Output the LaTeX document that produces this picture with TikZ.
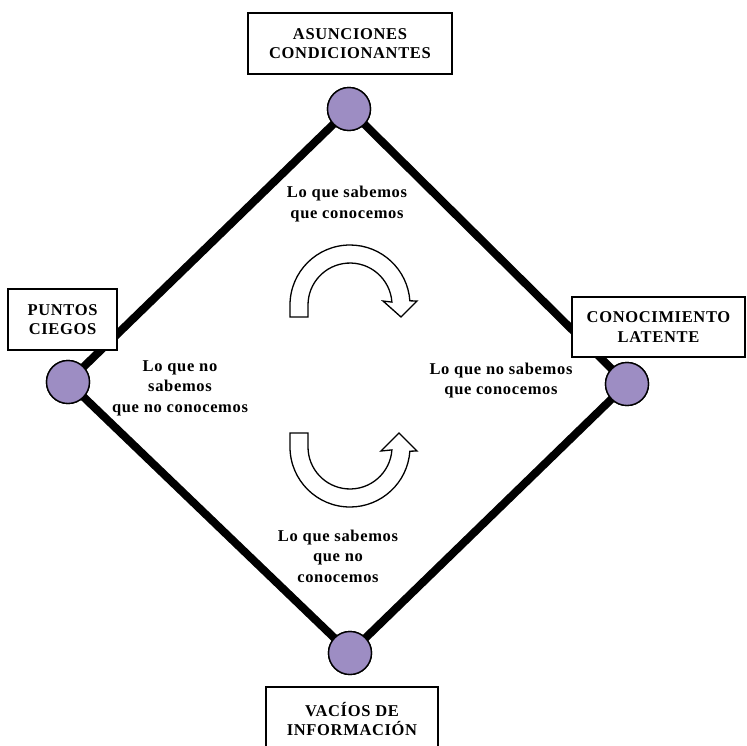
\documentclass[tikz,border=0pt]{standalone}
\usepackage{fontspec}
\setmainfont{Liberation Serif}[LetterSpace=4]
\definecolor{dot}{RGB}{157,141,195}
\begin{document}
\begin{tikzpicture}[x=1pt,y=1pt,
  edge/.style={line width=8pt},
  dotnode/.style={circle,draw=black,line width=1.4pt,fill=dot,minimum size=43pt,inner sep=0pt},
  boxnode/.style={draw=black,line width=1.6pt,fill=white,align=center,inner sep=0pt,
     font=\fontsize{16.5}{19.5}\selectfont\bfseries},
  lbl/.style={align=center,inner sep=0pt,font=\fontsize{16.5}{20.5}\selectfont\bfseries},
  cyclearrow/.style={draw=black,line width=1.3pt,fill=white,line join=miter}]
\useasboundingbox (0,0) rectangle (747,-745);
\begin{scope}
\clip (0,0) rectangle (747,-745);
% circles (positions)
\node[dotnode] (ct) at (349,-109) {};
\node[dotnode] (cl) at (68,-382) {};
\node[dotnode] (cr) at (627,-384) {};
\node[dotnode] (cb) at (350,-653) {};
% diamond edges
\draw[edge] (ct.center) -- (cl.center);
\draw[edge] (cl.center) -- (cb.center);
\draw[edge] (cb.center) -- (cr.center);
\draw[edge] (cr.center) -- (ct.center);
% redraw circles on top
\node[dotnode] at (ct) {};
\node[dotnode] at (cl) {};
\node[dotnode] at (cr) {};
\node[dotnode] at (cb) {};
% boxes
\node[boxnode,minimum width=204pt,minimum height=61pt] (bt) at (350,-43.5) {ASUNCIONES\\CONDICIONANTES};
\node[boxnode,minimum width=109pt,minimum height=61pt] (bl) at (62.5,-319.5) {PUNTOS\\CIEGOS};
\node[boxnode,minimum width=173pt,minimum height=60pt] (br) at (658.5,-327) {CONOCIMIENTO\\LATENTE};
\node[boxnode,minimum width=172pt,minimum height=64pt] (bb) at (352,-719) {VACÍOS DE\\INFORMACIÓN};
\end{scope}
% labels
\node[lbl] (lt) at (347,-204) {Lo que sabemos\\que conocemos};
\node[lbl] (ll) at (180,-388) {Lo que no\\sabemos\\que no conocemos};
\node[lbl] (lr) at (501,-380.5) {Lo que no sabemos\\que conocemos};
\node[lbl] (lb) at (338,-556) {Lo que sabemos\\que no\\conocemos};
% curved arrows
\path[cyclearrow] (290,-317) -- (290,-305) arc[start angle=180,end angle=4,radius=60]
  -- (417,-301) -- (401,-317) -- (383,-301) -- (391.9,-302.1)
  arc[start angle=4,end angle=180,radius=42] -- (308,-317) -- cycle;
\path[cyclearrow] (290,-433) -- (290,-447) arc[start angle=180,end angle=356,radius=60]
  -- (417,-451) -- (399,-433) -- (381,-451) -- (391.9,-449.9)
  arc[start angle=356,end angle=180,radius=42] -- (308,-433) -- cycle;
\end{tikzpicture}
\end{document}
